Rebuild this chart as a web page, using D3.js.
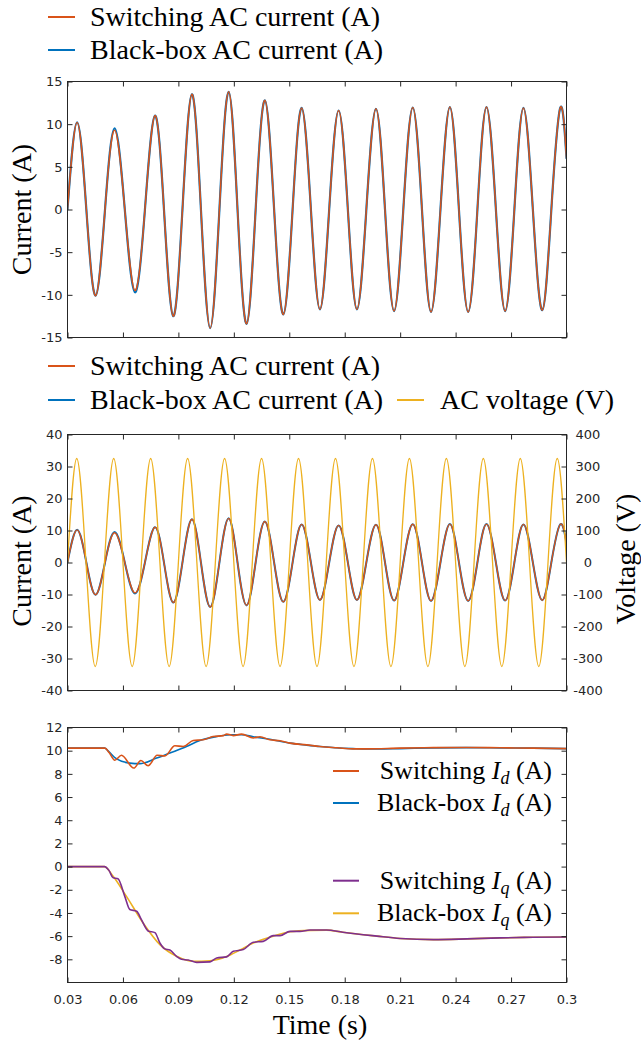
<!DOCTYPE html>
<html><head><meta charset="utf-8">
<script src="https://cdn.jsdelivr.net/npm/d3@7"></script>
<style>body{margin:0;background:#fff} svg{display:block}</style>
</head><body>
<svg id="c" width="641" height="1045"></svg>
<script>
// ---------------- DATA ----------------
const xTickVals = [0.03,0.06,0.09,0.12,0.15,0.18,0.21,0.24,0.27,0.30];
const xTickLabels = ["0.03","0.06","0.09","0.12","0.15","0.18","0.21","0.24","0.27","0.3"];
const yTicks1 = [-15,-10,-5,0,5,10,15];
const yTicks2L = [-40,-30,-20,-10,0,10,20,30,40];
const yTicks2R = [-400,-300,-200,-100,0,100,200,300,400];
const yTicks3 = [-8,-6,-4,-2,0,2,4,6,8,10,12];

// AC current key points (zero crossings / peaks / troughs)
const curTime = [0.0300,0.0352,0.0402,0.0452,0.0503,0.0555,0.0610,0.0665,0.0719,0.0773,0.0822,0.0872,0.0922,0.0973,0.1022,0.1072,0.1122,0.1172,0.1220,0.1269,0.1318,0.1368,0.1418,0.1468,0.1518,0.1567,0.1617,0.1666,0.1716,0.1767,0.1817,0.1866,0.1917,0.1969,0.2018,0.2067,0.2117,0.2168,0.2218,0.2267,0.2318,0.2369,0.2418,0.2468,0.2518,0.2567,0.2618,0.2668,0.2718,0.2767,0.2818,0.2869,0.2918,0.2966,0.3000];
const iSwitching = [0,10.2,0,-10.1,0,9.3,0,-9.5,0,11.0,0,-12.5,0,13.5,0,-13.9,0,13.8,0,-13.4,0,12.8,0,-12.3,0,11.9,0,-11.7,0,11.6,0,-11.7,0,11.8,0,-11.9,0,11.95,0,-12.0,0,12.0,0,-12.0,0,12.0,0,-11.9,0,11.9,0,-11.8,0,11.9,6.0];
const iBlackBox  = [0,10.2,0,-10.1,0,9.5,0,-9.7,0,11.0,0,-12.5,0,13.5,0,-13.9,0,13.8,0,-13.4,0,12.8,0,-12.3,0,11.9,0,-11.7,0,11.6,0,-11.7,0,11.8,0,-11.9,0,11.95,0,-12.0,0,12.0,0,-12.0,0,12.0,0,-11.9,0,11.9,0,-11.8,0,11.9,6.0];

// AC voltage key points
const vTime = [0.030,0.035,0.040,0.045,0.050,0.055,0.060,0.065,0.070,0.075,0.080,0.085,0.090,0.095,0.100,0.105,0.110,0.115,0.120,0.125,0.130,0.135,0.140,0.145,0.150,0.155,0.160,0.165,0.170,0.175,0.180,0.185,0.190,0.195,0.200,0.205,0.210,0.215,0.220,0.225,0.230,0.235,0.240,0.245,0.250,0.255,0.260,0.265,0.270,0.275,0.280,0.285,0.290,0.295,0.300];
const vAC = [0,325,0,-325,0,325,0,-325,0,325,0,-325,0,325,0,-325,0,325,0,-325,0,325,0,-325,0,325,0,-325,0,325,0,-325,0,325,0,-325,0,325,0,-325,0,325,0,-325,0,325,0,-325,0,325,0,-325,0,325,0];

// dq currents
const tIdSw = [0.030,0.0502,0.0525,0.0556,0.0592,0.0659,0.0697,0.0736,0.0785,0.0827,0.0881,0.0926,0.0980,0.1034,0.1088,0.1143,0.1161,0.1197,0.1242,0.1305,0.1341,0.1395,0.1450,0.1504,0.1594,0.1666,0.1760,0.1845,0.1919,0.2100,0.2280,0.2460,0.2640,0.2820,0.3000];
const idSw  = [10.22,10.22,9.85,9.18,9.6,8.5,9.15,8.7,9.6,9.55,10.42,10.36,10.88,10.94,11.22,11.3,11.43,11.3,11.43,11.1,11.2,10.94,10.85,10.65,10.5,10.36,10.25,10.16,10.16,10.22,10.26,10.28,10.25,10.22,10.18];
const tIdBb = [0.030,0.0502,0.0525,0.0556,0.0637,0.0692,0.0782,0.0854,0.0944,0.1016,0.1107,0.1179,0.1242,0.1305,0.1395,0.1504,0.1594,0.1666,0.1845,0.1919,0.2100,0.2280,0.2460,0.2640,0.2820,0.3000];
const idBb  = [10.22,10.22,9.9,9.4,8.93,8.88,9.36,9.8,10.36,10.88,11.22,11.37,11.38,11.2,10.98,10.65,10.48,10.36,10.18,10.14,10.18,10.24,10.26,10.24,10.22,10.18];
const tIqSw = [0.030,0.0500,0.0525,0.0546,0.0573,0.0610,0.0637,0.0674,0.0700,0.0736,0.0773,0.0800,0.0827,0.0854,0.0890,0.0917,0.0953,0.0999,0.1071,0.1107,0.1161,0.1197,0.1251,0.1305,0.1359,0.1413,0.1450,0.1504,0.1558,0.1612,0.1702,0.1790,0.1974,0.2100,0.2280,0.2460,0.2640,0.2820,0.3000];
const iqSw  = [0,0,-0.35,-0.95,-1.05,-2.57,-3.7,-3.85,-4.58,-5.55,-5.7,-6.59,-7.1,-7.2,-7.74,-8.0,-8.06,-8.26,-8.22,-7.88,-7.79,-7.31,-7.16,-6.53,-6.45,-5.96,-5.96,-5.59,-5.59,-5.47,-5.47,-5.67,-6.0,-6.2,-6.3,-6.24,-6.15,-6.1,-6.07];
const tIqBb = [0.030,0.0500,0.0547,0.0619,0.0709,0.0800,0.0890,0.0980,0.1071,0.1161,0.1233,0.1305,0.1413,0.1504,0.1612,0.1702,0.1790,0.1974,0.2100,0.2280,0.2460,0.2640,0.2820,0.3000];
const iqBb  = [0,0,-0.84,-2.57,-4.86,-6.73,-7.74,-8.17,-8.12,-7.76,-7.2,-6.6,-6.0,-5.62,-5.5,-5.48,-5.67,-6.0,-6.2,-6.3,-6.24,-6.15,-6.1,-6.07];

// ---------------- STYLE / LAYOUT ----------------
const C = {orange:"#D95319", blue:"#0072BD", yellow:"#EDB120", purple:"#7E2F8E", axis:"#262626"};
const SERIF = "'Liberation Serif', 'Times New Roman', serif";
const SANS = "'DejaVu Sans', sans-serif";
const L = 67.5, R = 566.5;
const svg = d3.select("#c");
const x = d3.scaleLinear().domain([0.03,0.3]).range([L,R]);

function frame(top, bottom, yL, ticksL, opts){
  const g = svg.append("g");
  g.append("g").attr("transform",`translate(0,${top})`)
    .call(d3.axisBottom(x).tickValues(xTickVals).tickSize(5).tickFormat(""));
  g.append("g").attr("transform",`translate(0,${bottom})`)
    .call(d3.axisBottom(x).tickValues(xTickVals).tickSize(-5).tickPadding(12)
      .tickFormat((d,i)=> opts.xLabels ? xTickLabels[i] : ""));
  g.append("g").attr("transform",`translate(${L},0)`)
    .call(d3.axisLeft(yL).tickValues(ticksL).tickSize(-5).tickPadding(5).tickFormat(d=>String(d)));
  const rg = g.append("g").attr("transform",`translate(${R},0)`);
  if (opts.yR) {
    rg.call(d3.axisRight(opts.yR).tickValues(opts.ticksR).tickSize(-5).tickFormat(d=>String(d)));
    rg.selectAll("text").attr("x",21.5).attr("text-anchor","middle");
  } else {
    rg.call(d3.axisRight(yL).tickValues(ticksL).tickSize(-5).tickFormat(""));
  }
  g.selectAll(".domain").remove();
  g.selectAll(".tick line").attr("stroke",C.axis).attr("stroke-width",1);
  g.selectAll("text").attr("font-family",SANS).attr("font-size",13).attr("fill",C.axis);
  g.append("rect").attr("x",L).attr("y",top).attr("width",R-L).attr("height",bottom-top)
    .attr("fill","none").attr("stroke",C.axis).attr("stroke-width",1);
  return g;
}

function clip(id, top, bottom){
  svg.append("clipPath").attr("id",id).append("rect")
    .attr("x",L).attr("y",top).attr("width",R-L).attr("height",bottom-top);
  return svg.append("g").attr("clip-path",`url(#${id})`);
}

function drawLine(g, ts, vs, y, color, w, curve){
  const line = d3.line().x(d=>x(d[0])).y(d=>y(d[1])).curve(curve);
  g.append("path").datum(d3.zip(ts,vs)).attr("d",line)
    .attr("fill","none").attr("stroke",color).attr("stroke-width",w)
    .attr("stroke-linejoin","round").attr("stroke-linecap","round");
}

function legendRow(x0, x1, xt, y, color, label){
  svg.append("line").attr("x1",x0).attr("x2",x1).attr("y1",y).attr("y2",y)
    .attr("stroke",color).attr("stroke-width",2);
  svg.append("text").attr("x",xt).attr("y",y+9).attr("font-family",SERIF)
    .attr("font-size",28).attr("fill","#000").text(label);
}

function yLabel(cx, cy, label){
  svg.append("text").attr("transform",`translate(${cx},${cy}) rotate(-90)`)
    .attr("text-anchor","middle").attr("dy","0.33em")
    .attr("font-family",SERIF).attr("font-size",28).attr("fill","#000").text(label);
}

// ---------------- PANEL 1 ----------------
const p1 = {top:81.5, bottom:337.5};
const y1 = d3.scaleLinear().domain([-15,15]).range([p1.bottom,p1.top]);
const g1 = clip("cp1", p1.top, p1.bottom);
drawLine(g1, curTime, iBlackBox, y1, C.blue, 2.2, d3.curveNatural);
drawLine(g1, curTime, iSwitching, y1, C.orange, 1.5, d3.curveNatural);
frame(p1.top, p1.bottom, y1, yTicks1, {xLabels:false});
yLabel(22, 209.5, "Current (A)");
legendRow(48, 75, 90, 17, C.orange, "Switching AC current (A)");
legendRow(48, 75, 90, 50, C.blue, "Black-box AC current (A)");

// ---------------- PANEL 2 ----------------
const p2 = {top:434.5, bottom:690.5};
const y2 = d3.scaleLinear().domain([-40,40]).range([p2.bottom,p2.top]);
const y2r = d3.scaleLinear().domain([-400,400]).range([p2.bottom,p2.top]);
const g2 = clip("cp2", p2.top, p2.bottom);
drawLine(g2, curTime, iBlackBox, y2, C.blue, 2.0, d3.curveNatural);
drawLine(g2, curTime, iSwitching, y2, C.orange, 1.4, d3.curveNatural);
drawLine(g2, vTime, vAC, y2r, C.yellow, 1.3, d3.curveNatural);
frame(p2.top, p2.bottom, y2, yTicks2L, {xLabels:false, yR:y2r, ticksR:yTicks2R});
yLabel(22, 561, "Current (A)");
yLabel(626, 559, "Voltage (V)");
legendRow(48, 75, 90, 366, C.orange, "Switching AC current (A)");
legendRow(48, 75, 90, 400, C.blue, "Black-box AC current (A)");
legendRow(397, 424, 440, 400, C.yellow, "AC voltage (V)");

// ---------------- PANEL 3 ----------------
const p3 = {top:727.5, bottom:982.5};
const y3 = d3.scaleLinear().domain([-10,12]).range([p3.bottom,p3.top]);
const g3 = clip("cp3", p3.top, p3.bottom);
drawLine(g3, tIdBb, idBb, y3, C.blue, 1.6, d3.curveMonotoneX);
drawLine(g3, tIdSw, idSw, y3, C.orange, 1.6, d3.curveMonotoneX);
drawLine(g3, tIqBb, iqBb, y3, C.yellow, 1.6, d3.curveMonotoneX);
drawLine(g3, tIqSw, iqSw, y3, C.purple, 1.6, d3.curveMonotoneX);
frame(p3.top, p3.bottom, y3, yTicks3, {xLabels:true});
svg.append("text").attr("x",320).attr("y",1034).attr("text-anchor","middle")
  .attr("font-family",SERIF).attr("font-size",28).attr("fill","#000").text("Time (s)");

function dqLegend(y, color, word, sub){
  svg.append("line").attr("x1",333).attr("x2",359).attr("y1",y).attr("y2",y)
    .attr("stroke",color).attr("stroke-width",2);
  const t = svg.append("text").attr("x",552).attr("y",y+8).attr("text-anchor","end")
    .attr("font-family",SERIF).attr("font-size",26).attr("fill","#000");
  t.append("tspan").text(word + " ");
  t.append("tspan").attr("font-style","italic").text("I");
  t.append("tspan").attr("font-style","italic").attr("font-size",18).attr("dy",5).text(sub);
  t.append("tspan").attr("dy",-5).text(" (A)");
}
dqLegend(771, C.orange, "Switching", "d");
dqLegend(803, C.blue, "Black-box", "d");
dqLegend(880.7, C.purple, "Switching", "q");
dqLegend(913.3, C.yellow, "Black-box", "q");
</script>
</body></html>
